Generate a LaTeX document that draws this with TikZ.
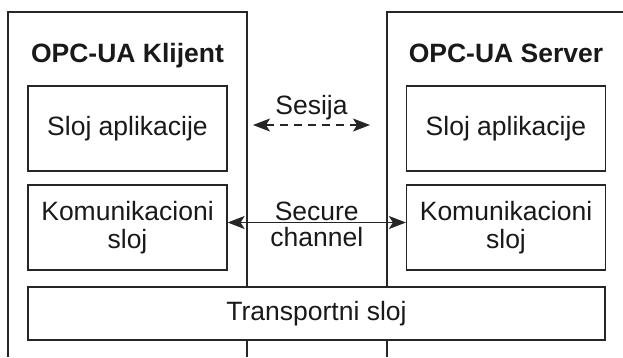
\documentclass[tikz,border=0pt]{standalone}
\usepackage{fontspec}
\setmainfont{Liberation Sans}
\usetikzlibrary{arrows.meta}
\begin{document}
\begin{tikzpicture}[x=1pt,y=-1pt,
  font=\fontsize{26.5}{28}\selectfont, text=black!90,
  wall/.style={draw=black!85,line width=1.5pt},
  layer/.style={draw=black!85,line width=1.2pt,fill=white,align=center,
    minimum width=199pt,minimum height=85pt,inner sep=0pt},
  link/.style={draw=black!85,line width=1.8pt,
    {Stealth[length=17pt,width=13pt,inset=4pt]}-{Stealth[length=17pt,width=13pt,inset=4pt]}}]
\useasboundingbox (0,0) rectangle (623,357);
% client and server sides, open at the bottom
\draw[wall] (8,357) -- (8,12) -- (247,12) -- (247,357);
\draw[wall] (387,357) -- (387,12) -- (623,12);
\node[anchor=base,font=\fontsize{26.5}{28}\selectfont\bfseries] (klijent) at (127.5,62) {OPC-UA Klijent};
\node[anchor=base,font=\fontsize{26.5}{28}\selectfont\bfseries] (server) at (506,62) {OPC-UA Server};
% layers
\node[layer] (kapp) at (127.5,128.5) {Sloj aplikacije};
\node[layer] (kkom) at (127.5,227.5) {Komunikacioni\\sloj};
\node[layer] (sapp) at (506,128.5) {Sloj aplikacije};
\node[layer] (skom) at (506,227.5) {Komunikacioni\\sloj};
\node[layer,minimum width=577pt,minimum height=53pt] (transport) at (316.5,313.5) {Transportni sloj};
% connections
\coordinate (sesL) at (253,125);
\coordinate (sesR) at (370,125);
\draw[link,line width=1.2pt,dash pattern=on 8pt off 6pt] (sesL) -- node[above=4pt,inner sep=0pt] (sesija) {Sesija} (sesR);
\draw[link] ([yshift=5pt]kkom.east) -- node[above=1pt,inner sep=0pt] (secure) {Secure}
  node[below=4pt,inner sep=0pt] (channel) {channel} ([yshift=5pt]skom.west);
\end{tikzpicture}
\end{document}
